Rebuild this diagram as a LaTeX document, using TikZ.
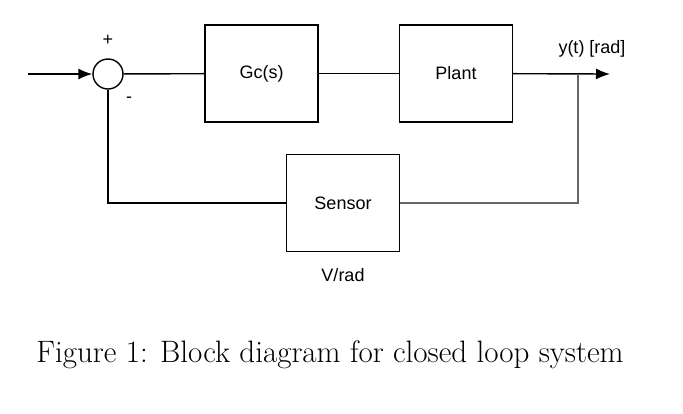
\documentclass[tikz,border=0pt]{standalone}
\usepackage{fontspec}
\setsansfont{Liberation Sans}
\usetikzlibrary{arrows.meta,positioning}
\tikzset{
  blk/.style={draw, line width=1.4pt, minimum width=113pt, minimum height=97pt, font=\sffamily\fontsize{18}{22}\selectfont},
  sig/.style={line width=1.4pt},
  lbl/.style={font=\sffamily\fontsize{18}{22}\selectfont}
}
\begin{document}
\begin{tikzpicture}[x=1pt,y=-1pt]
  \useasboundingbox (0,0) rectangle (683,413);
  \node[draw, line width=1.4pt, circle, minimum size=30pt, inner sep=0pt] (sum) at (108,74) {};
  \node[blk] (gc) at (261.5,73.5) {Gc(s)};
  \node[blk] (plant) at (456,73.5) {Plant};
  \node[blk] (sensor) at (343,203) {Sensor};
  \coordinate (in) at (28,74);
  \coordinate (out) at (610,74);
  \coordinate (tap) at (578,74);
  \draw[sig,-{Latex[length=14pt,width=11pt]}] (in) -- (sum);
  \draw[sig] (sum) -- (gc);
  \draw[sig] (gc) -- (plant);
  \draw[sig,-{Latex[length=14pt,width=11pt]}] (plant) -- (out);
  \draw[gray!80!black, line width=2.2pt] (tap) |- (sensor.east);
  \draw[sig] (sensor.west) -| (sum.south);
  \node[lbl] at (108,40) {+};
  \node[lbl] at (129,100) {-};
  \node[lbl] at (592,49) {y(t) [rad]};
  \node[lbl] at (343,275) {V/rad};
  \node[font=\fontsize{31}{37}\selectfont] at (330,355) {Figure 1: Block diagram for closed loop system};
\end{tikzpicture}
\end{document}
